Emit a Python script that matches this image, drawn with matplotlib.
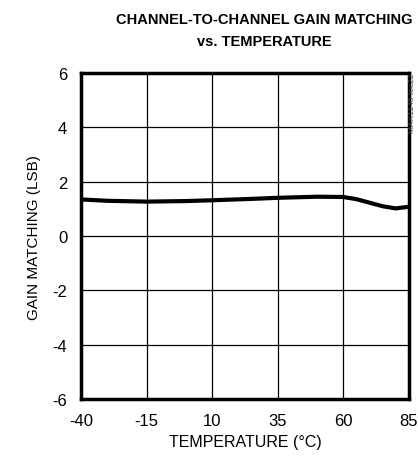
import matplotlib.pyplot as plt
import numpy as np

# Gain matching vs temperature
temperature = [-40, -30, -15, 0, 10, 25, 35, 50, 60, 65, 70, 75, 80, 85]
gain_matching = [1.35, 1.30, 1.27, 1.29, 1.32, 1.37, 1.41, 1.45, 1.44, 1.36, 1.23, 1.10, 1.02, 1.08]
x_ticks = [-40, -15, 10, 35, 60, 85]
y_ticks = [-6, -4, -2, 0, 2, 4, 6]

plt.rcParams['font.family'] = ['Liberation Sans Narrow', 'Liberation Sans', 'DejaVu Sans']
plt.rcParams['axes.unicode_minus'] = False

fig = plt.figure(figsize=(4.18, 4.60), dpi=100)
ax = fig.add_axes([0.194, 0.130, 0.784, 0.709])

ax.plot(temperature, gain_matching, color='black', linewidth=3, solid_capstyle='butt')

ax.set_xlim(-40, 85)
ax.set_ylim(-6, 6)
ax.set_xticks(x_ticks)
ax.set_yticks(y_ticks)
ax.grid(True, color='black', linewidth=0.9)
ax.tick_params(length=0, labelsize=12, pad=10)
for s in ax.spines.values():
    s.set_linewidth(2.5)

ax.set_xlabel('TEMPERATURE (°C)', fontsize=11.5, labelpad=4)
ax.set_ylabel('GAIN MATCHING (LSB)', fontsize=11, labelpad=8)

fig.text(0.632, 0.972, 'CHANNEL-TO-CHANNEL GAIN MATCHING\nvs. TEMPERATURE',
         ha='center', va='top', fontsize=10.5, fontweight='bold', linespacing=1.75)
fig.text(0.988, 0.84, 'MAX1146 toc22', rotation=90, ha='center', va='top',
         fontsize=6, color='#444444')

fig.savefig('out.png', dpi=100)
